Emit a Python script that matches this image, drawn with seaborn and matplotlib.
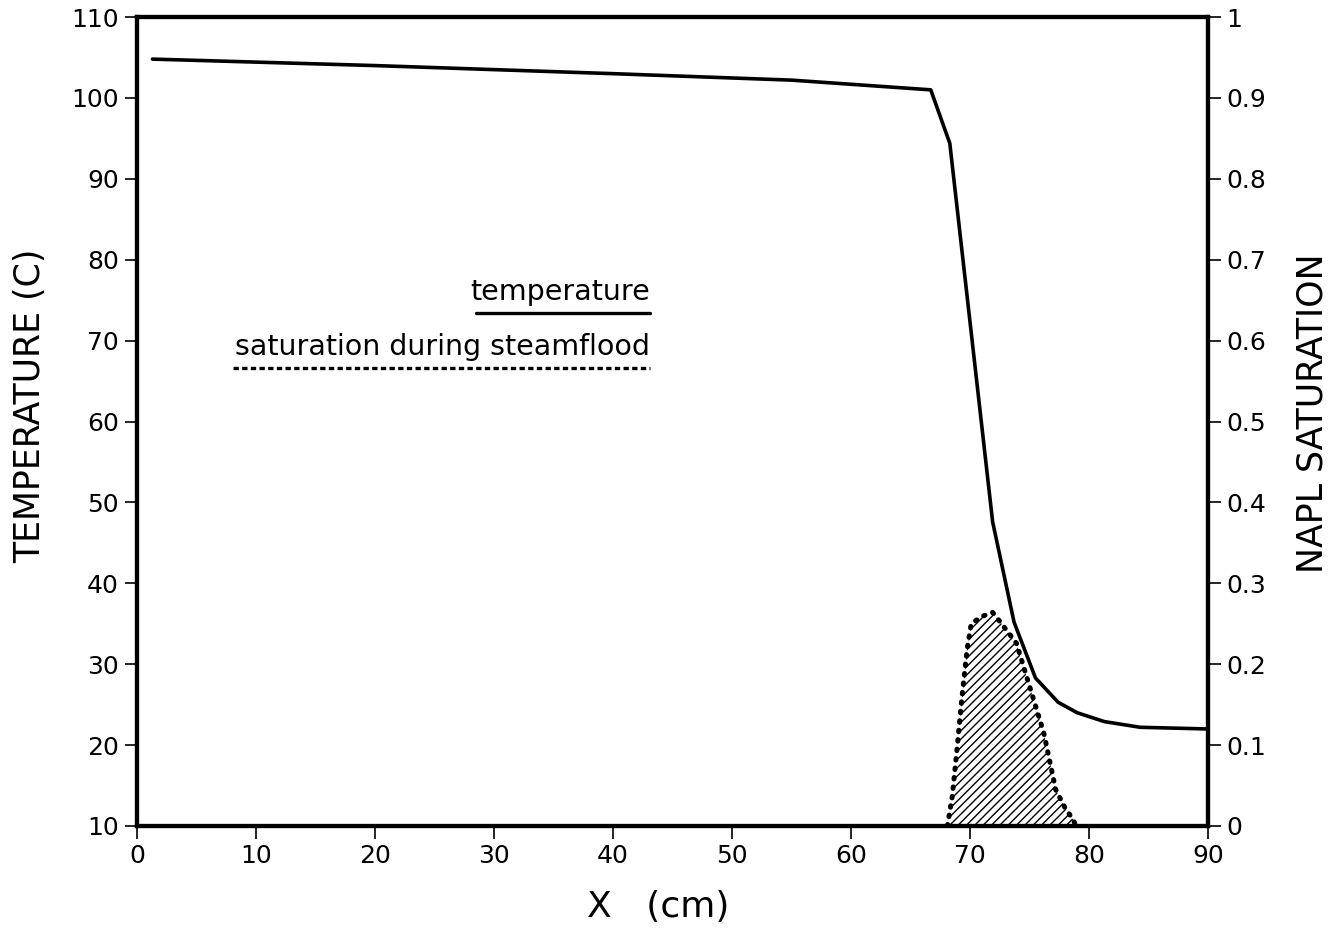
import matplotlib
matplotlib.use("Agg")
import matplotlib.pyplot as plt
import seaborn as sns
import numpy as np
import pandas as pd

# Data
temp_x = [1.3, 20.0, 40.0, 55.0, 66.7, 68.3, 71.9, 73.7, 75.5, 77.4, 79.0, 81.3, 84.3, 89.8]
temp_y = [104.8, 104.0, 103.0, 102.2, 101.0, 94.4, 47.6, 35.2, 28.3, 25.3, 24.0, 22.9, 22.2, 22.0]

sat_x = [68.1, 68.5, 68.9, 69.3, 69.75, 70.1, 71.0, 71.9, 72.6, 73.9, 75.1, 76.2, 77.2, 78.0, 78.7, 78.9]
sat_y = [0.0, 0.036, 0.094, 0.156, 0.218, 0.25, 0.259, 0.264, 0.251, 0.226, 0.168, 0.115, 0.045, 0.022, 0.007, 0.0]

x_ticks = [0, 10, 20, 30, 40, 50, 60, 70, 80, 90]
t_ticks = [10, 20, 30, 40, 50, 60, 70, 80, 90, 100, 110]
s_ticks = [0, 0.1, 0.2, 0.3, 0.4, 0.5, 0.6, 0.7, 0.8, 0.9, 1]
s_labels = ["0", "0.1", "0.2", "0.3", "0.4", "0.5", "0.6", "0.7", "0.8", "0.9", "1"]

sns.set_theme(style="white")
plt.rcParams['font.family'] = ['DejaVu Sans']
plt.rcParams['text.color'] = 'black'
plt.rcParams['axes.labelcolor'] = 'black'

fig = plt.figure(figsize=(13.43, 9.31), dpi=100)
ax = fig.add_axes([0.102, 0.1128, 0.7975, 0.8689])
ax2 = ax.twinx()

df_t = pd.DataFrame({"x": temp_x, "T": temp_y})
sns.lineplot(data=df_t, x="x", y="T", ax=ax, color="black", linewidth=2.6, sort=False)

df_s = pd.DataFrame({"x": sat_x, "S": sat_y})
ax2.fill_between(sat_x, 0, sat_y, facecolor="none", edgecolor="black", hatch="////", linewidth=0)
sns.lineplot(data=df_s, x="x", y="S", ax=ax2, color="black", linewidth=3.6,
             linestyle=(0, (0.3, 1.6)), dash_capstyle="round", sort=False)

ax.set_xlim(0, 90)
ax.set_ylim(10, 110)
ax2.set_ylim(0, 1)
ax.set_xticks(x_ticks)
ax.set_yticks(t_ticks)
ax2.set_yticks(s_ticks)
ax2.set_yticklabels(s_labels)

for a in (ax, ax2):
    for sp in a.spines.values():
        sp.set_linewidth(3)
        sp.set_color("black")
    a.tick_params(direction="out", length=9, width=1.2, colors="black", labelsize=18, pad=4)

ax.tick_params(axis="x", bottom=True, top=False)
ax.tick_params(axis="y", left=True, right=False)
ax2.tick_params(axis="y", right=True, left=False)

ax.set_xlabel("X   (cm)", fontsize=26)
ax.xaxis.set_label_coords(0.487, -0.079)
ax.set_ylabel("TEMPERATURE (C)", fontsize=25)
ax.yaxis.set_label_coords(-0.084, 0.52)
ax2.set_ylabel("NAPL SATURATION", fontsize=25)
ax2.yaxis.set_label_coords(1.082, 0.51)

# legend drawn as underlined labels
ax.text(0.479, 0.643, "temperature", transform=ax.transAxes, ha="right", va="bottom", fontsize=20.5)
ax.plot([0.3165, 0.479], [0.634, 0.634], transform=ax.transAxes, color="black", linewidth=2.4)
ax.text(0.479, 0.575, "saturation during steamflood", transform=ax.transAxes, ha="right", va="bottom", fontsize=20.5)
ax.plot([0.0896, 0.479], [0.566, 0.566], transform=ax.transAxes, color="black", linewidth=2.4,
        linestyle=(0, (1.6, 1.0)))

ax.grid(False)
ax2.grid(False)
fig.savefig("out.png", dpi=100)
